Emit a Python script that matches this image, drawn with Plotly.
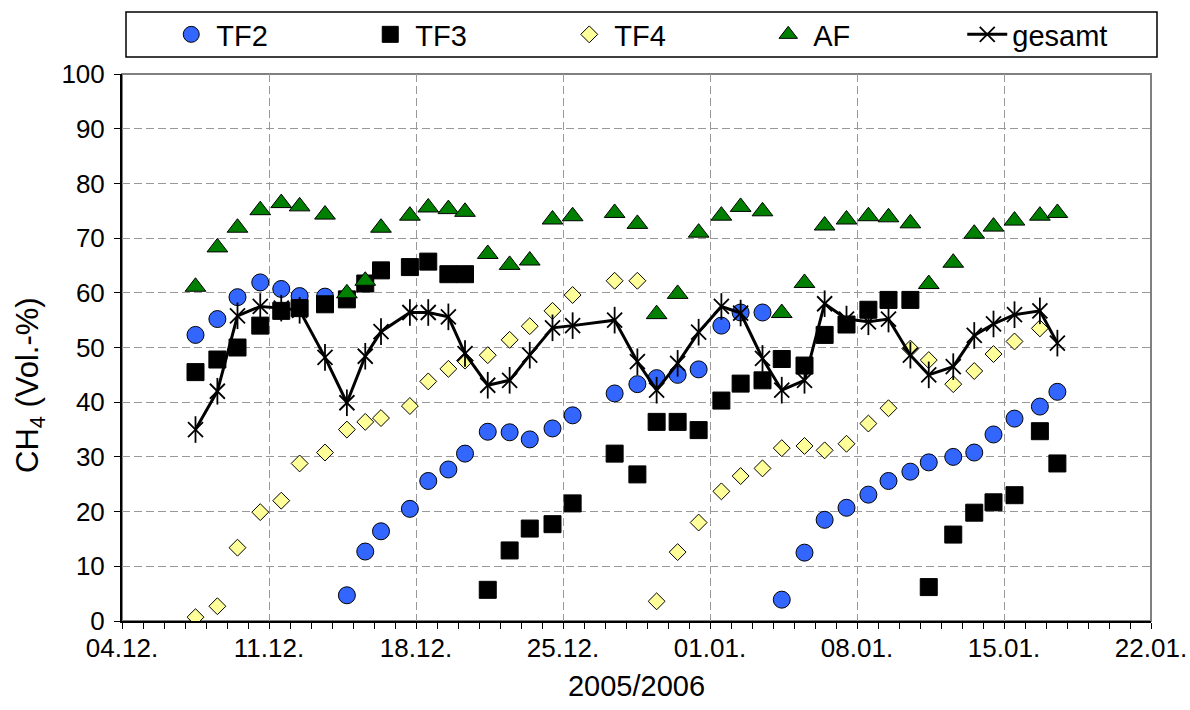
import plotly.graph_objects as go

# Sampling times (day and approximate hour of each gas measurement)
dates = [
    "2005-12-07 12:00", "2005-12-08 13:00", "2005-12-09 12:00", "2005-12-10 14:00",
    "2005-12-11 14:00", "2005-12-12 11:00", "2005-12-13 16:00", "2005-12-14 17:00",
    "2005-12-15 14:00", "2005-12-16 08:00", "2005-12-17 17:00", "2005-12-18 14:00",
    "2005-12-19 13:00", "2005-12-20 08:00", "2005-12-21 10:00", "2005-12-22 11:00",
    "2005-12-23 10:00", "2005-12-24 12:00", "2005-12-25 11:00", "2005-12-27 11:00",
    "2005-12-28 13:00", "2005-12-29 11:00", "2005-12-30 11:00", "2005-12-31 11:00",
    "2006-01-01 13:00", "2006-01-02 11:00", "2006-01-03 12:00", "2006-01-04 10:00",
    "2006-01-05 12:00", "2006-01-06 11:00", "2006-01-07 12:00", "2006-01-08 13:00",
    "2006-01-09 12:00", "2006-01-10 13:00", "2006-01-11 10:00", "2006-01-12 14:00",
    "2006-01-13 14:00", "2006-01-14 12:00", "2006-01-15 12:00", "2006-01-16 17:00",
    "2006-01-17 13:00",
]

# CH4 content in Vol.-%
tf2 = [52.3, 55.2, 59.2, 61.9, 60.7, 59.4, 59.3, 4.7, 12.7, 16.4, 20.5, 25.6, 27.7, 30.6,
       34.6, 34.5, 33.2, 35.2, 37.6, 41.6, 43.3, 44.4, 45.0, 46.0, 54.0, 56.4, 56.4, 3.9,
       12.5, 18.5, 20.7, 23.1, 25.6, 27.3, 29.0, 30.0, 30.8, 34.1, 37.0, 39.2, 41.9]
tf3 = [45.5, 47.8, 50.0, 54.0, 56.7, 57.2, 57.9, 58.8, 61.7, 64.1, 64.7, 65.7, 63.4, 63.4,
       5.7, 12.9, 16.9, 17.7, 21.5, 30.6, 26.8, 36.4, 36.4, 34.9, 40.3, 43.4, 44.0, 47.9,
       46.7, 52.3, 54.2, 56.9, 58.7, 58.7, 6.2, 15.8, 19.8, 21.7, 23.0, 34.7, 28.8]
tf4 = [0.7, 2.7, 13.4, 19.9, 22.0, 28.8, 30.8, 35.0, 36.4, 37.1, 39.3, 43.8, 46.1, 47.6,
       48.6, 51.4, 53.9, 56.7, 59.6, 62.2, 62.2, 3.6, 12.6, 18.0, 23.7, 26.5, 27.9, 31.6,
       32.0, 31.2, 32.4, 36.1, 38.9, 49.8, 47.7, 43.3, 45.7, 48.8, 51.1, 53.5, None]
af = [61.1, 68.3, 71.9, 75.1, 76.4, 75.8, 74.3, 59.9, 62.2, 71.9, 74.1, 75.6, 75.3, 74.8,
      67.1, 65.1, 65.9, 73.4, 74.0, 74.6, 72.6, 56.1, 59.8, 71.0, 74.1, 75.7, 74.9, 56.3,
      61.8, 72.3, 73.4, 74.0, 73.8, 72.7, 61.6, 65.5, 70.8, 72.1, 73.2, 74.1, 74.6]
gesamt = [35.0, 42.0, 55.8, 57.5, 57.2, 56.8, 48.2, 39.9, 48.4, 52.9, 56.4, 56.4, 55.6, 48.9,
          43.1, 44.0, 48.6, 53.6, 54.0, 55.0, 47.4, 42.2, 47.1, 52.8, 57.5, 56.3, 48.0, 42.2,
          44.0, 58.0, 55.2, 54.7, 55.2, 48.6, 45.0, 46.5, 52.2, 54.3, 56.0, 56.7, 50.8]

week_ticks = ["2005-12-04", "2005-12-11", "2005-12-18", "2005-12-25",
              "2006-01-01", "2006-01-08", "2006-01-15", "2006-01-22"]
y_ticks = list(range(0, 101, 10))

FONT = "Arial, Liberation Sans, sans-serif"
outline = dict(color="black", width=1)

# plot area in pixels
L, R, T, B = 122, 1151, 74, 621
W, H = R - L, B - T

fig = go.Figure()
fig.add_trace(go.Scatter(x=dates, y=tf2, name="TF2", mode="markers",
                         marker=dict(symbol="circle", size=17, color="#3366FF", line=outline)))
fig.add_trace(go.Scatter(x=dates, y=tf3, name="TF3", mode="markers",
                         marker=dict(symbol="square", size=17, color="black", line=outline)))
fig.add_trace(go.Scatter(x=dates, y=tf4, name="TF4", mode="markers",
                         marker=dict(symbol="diamond", size=13, color="#FFFF99", line=outline)))
fig.add_trace(go.Scatter(x=dates, y=af, name="AF", mode="markers",
                         marker=dict(symbol="triangle-up", size=18, color="#008000", line=outline)))
# total: line with six-armed star markers (x plus a vertical stroke)
fig.add_trace(go.Scatter(x=dates, y=gesamt, name="gesamt", mode="lines+markers",
                         line=dict(color="black", width=3),
                         marker=dict(symbol="x-thin-open", size=15, color="black",
                                     line=dict(color="black", width=1.8))))
fig.add_trace(go.Scatter(x=dates, y=gesamt, mode="markers", showlegend=False,
                         hoverinfo="skip",
                         marker=dict(symbol="line-ns-open", size=19, color="black",
                                     line=dict(color="black", width=1.8))))

fig.update_layout(
    width=1190, height=710,
    margin=dict(l=L, r=1190 - R, t=T, b=710 - B, autoexpand=False),
    paper_bgcolor="white", plot_bgcolor="white",
    font=dict(family=FONT, size=26, color="black"),
    showlegend=True,
    legend=dict(orientation="h", x=0.043, xanchor="left",
                y=(B - 34.5) / H, yanchor="middle",
                bgcolor="rgba(0,0,0,0)", borderwidth=0,
                font=dict(size=29, family=FONT),
                itemwidth=40, entrywidth=144, entrywidthmode="pixels",
                itemclick=False),
    shapes=[
        # plot-area frame
        dict(type="rect", xref="paper", yref="paper", x0=0, x1=1, y0=0, y1=1,
             line=dict(color="#808080", width=2), layer="below"),
        # legend frame
        dict(type="rect", xref="paper", yref="paper",
             x0=(126 - L) / W, x1=(1157 - L) / W,
             y0=(B - 57) / H, y1=(B - 12) / H,
             line=dict(color="black", width=1.5), fillcolor="white", layer="below"),
    ],
    annotations=[
        dict(text="CH<sub>4</sub> (Vol.-%)", xref="paper", yref="paper",
             x=(30 - L) / W, y=(B - 385) / H, xanchor="center", yanchor="middle",
             textangle=-90, showarrow=False, font=dict(size=31, family=FONT)),
    ],
)

fig.update_xaxes(
    type="date", range=["2005-12-04", "2006-01-22"],
    tickvals=week_ticks, tickformat="%d.%m.",
    showgrid=True, gridcolor="#999999", griddash="8px,4px", gridwidth=1,
    showline=True, linecolor="black", linewidth=2,
    ticks="outside", ticklen=6, tickcolor="black", tickwidth=1,
    minor=dict(dtick=86400000, ticks="outside", ticklen=6, tickcolor="black",
               showgrid=False),
    tickfont=dict(size=26), ticklabelstandoff=-3,
    title=dict(text="2005/2006", font=dict(size=29), standoff=13),
    zeroline=False,
)
fig.update_yaxes(
    range=[0, 100], tickvals=y_ticks,
    showgrid=True, gridcolor="#999999", griddash="8px,4px", gridwidth=1,
    showline=True, linecolor="black", linewidth=2,
    ticks="outside", ticklen=6, tickcolor="black", tickwidth=1,
    tickfont=dict(size=26), ticklabelstandoff=4,
    zeroline=False,
)

fig.write_html("out.html")
